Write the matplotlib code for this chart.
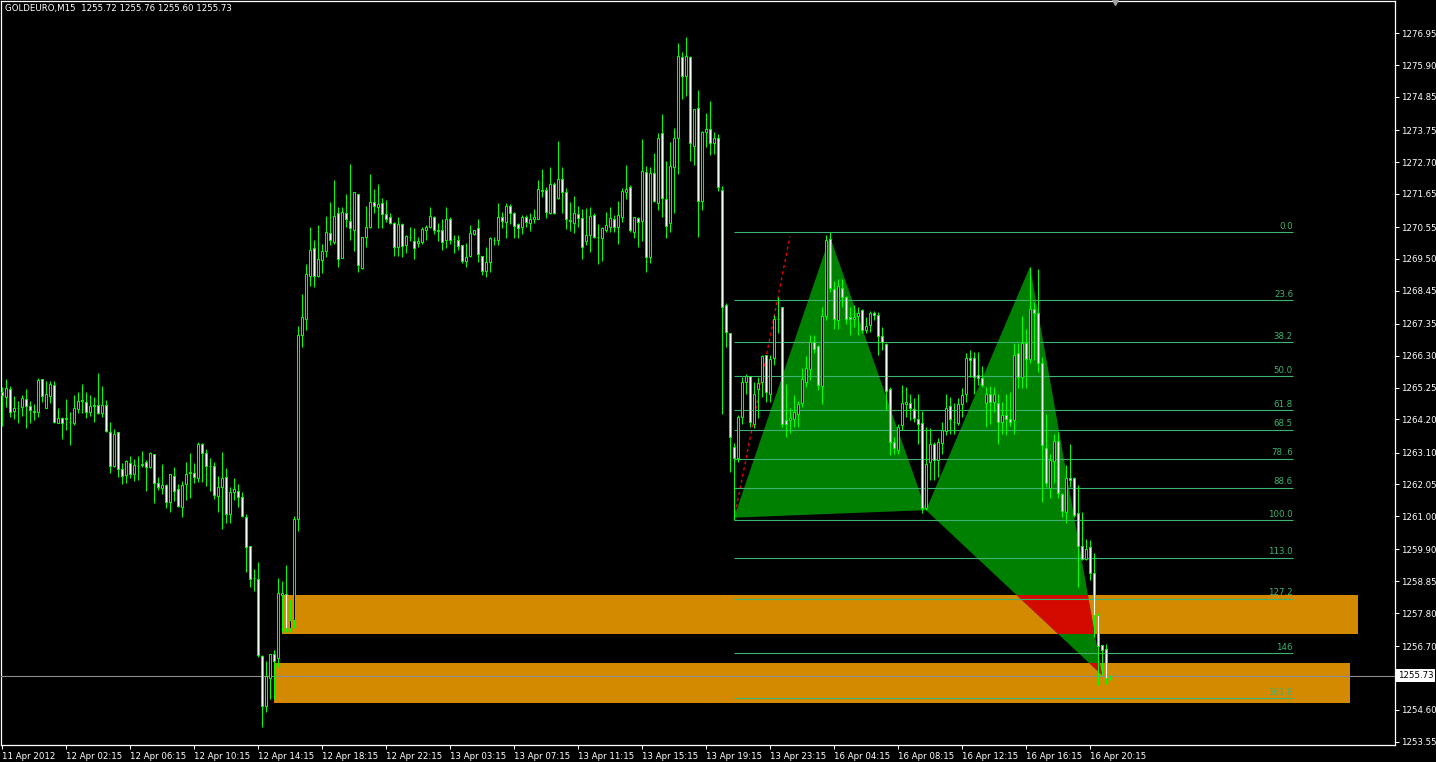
import numpy as np
import matplotlib
matplotlib.use("Agg")
import matplotlib.pyplot as plt
import matplotlib.transforms as mtransforms
from matplotlib.patches import Polygon, Rectangle

title = "GOLDEURO,M15  1255.72 1255.76 1255.60 1255.73"

# M15 candles, one entry per bar (bar 0 = 11 Apr 2012 00:00)
opens = [
    1265.09, 1264.95, 1265.19, 1264.49, 1264.57, 1264.60, 1264.86, 1264.63, 1264.46, 1264.43,
    1265.52, 1264.56, 1264.98, 1265.33, 1264.09, 1264.25, 1264.23, 1264.10, 1264.09, 1264.54,
    1264.82, 1264.76, 1264.45, 1264.65, 1264.67, 1264.42, 1264.67, 1263.77, 1262.67, 1263.77,
    1262.56, 1262.36, 1262.77, 1262.38, 1262.67, 1262.70, 1262.78, 1262.64, 1263.04, 1262.09,
    1261.94, 1262.03, 1261.46, 1262.34, 1261.89, 1261.31, 1262.05, 1262.45, 1262.42, 1262.25,
    1263.37, 1263.10, 1262.67, 1262.67, 1261.68, 1261.95, 1262.28, 1261.07, 1261.79, 1261.84,
    1261.64, 1260.98, 1260.01, 1258.97, 1258.91, 1256.39, 1254.74, 1255.66, 1256.43, 1256.30,
    1258.39, 1258.42, 1257.32, 1257.57, 1260.90, 1267.00, 1267.50, 1268.94, 1269.85, 1268.94,
    1269.46, 1269.77, 1270.34, 1270.07, 1271.03, 1269.54, 1271.03, 1270.76, 1270.47, 1271.66,
    1269.21, 1270.21, 1270.54, 1271.37, 1271.22, 1271.33, 1270.97, 1270.87, 1270.70, 1269.88,
    1270.64, 1269.96, 1270.23, 1270.09, 1270.01, 1270.05, 1270.47, 1270.54, 1270.87, 1270.44,
    1270.45, 1270.12, 1270.81, 1270.16, 1270.14, 1269.96, 1269.44, 1269.59, 1270.31, 1270.51,
    1269.61, 1269.11, 1269.41, 1270.12, 1270.14, 1270.87, 1270.73, 1271.26, 1271.00, 1270.65,
    1270.54, 1270.89, 1270.70, 1270.82, 1270.82, 1271.77, 1271.77, 1271.00, 1271.97, 1271.50,
    1272.13, 1271.72, 1270.77, 1270.70, 1270.98, 1270.84, 1270.09, 1270.29, 1270.95, 1270.23,
    1270.18, 1270.45, 1270.56, 1270.81, 1270.54, 1270.89, 1271.72, 1271.86, 1270.40, 1270.84,
    1270.76, 1272.36, 1269.57, 1272.33, 1271.33, 1273.65, 1271.47, 1270.67, 1272.54, 1273.48,
    1276.16, 1275.55, 1276.16, 1273.24, 1274.47, 1271.42, 1273.68, 1273.78, 1273.32, 1273.48,
    1271.77, 1267.97, 1267.06, 1263.29, 1262.93, 1264.26, 1265.42, 1265.64, 1264.06, 1265.19,
    1265.42, 1266.32, 1265.03, 1266.21, 1267.51, 1267.92, 1264.17, 1264.17, 1264.21, 1264.37,
    1264.75, 1265.42, 1265.86, 1266.74, 1266.62, 1265.31, 1267.62, 1270.17, 1268.52, 1267.48,
    1268.54, 1268.25, 1267.59, 1267.53, 1267.61, 1267.81, 1267.15, 1267.31, 1267.72, 1267.66,
    1266.96, 1266.68, 1265.20, 1263.46, 1263.20, 1264.01, 1264.70, 1264.75, 1264.54, 1264.21,
    1264.09, 1261.26, 1262.78, 1263.38, 1262.85, 1263.42, 1263.82, 1264.64, 1264.12, 1264.09,
    1264.72, 1265.03, 1266.21, 1266.24, 1265.66, 1265.58, 1264.75, 1265.03, 1264.78, 1264.75,
    1264.12, 1264.34, 1264.21, 1264.17, 1266.38, 1265.61, 1266.73, 1266.18, 1267.86, 1267.70,
    1266.07, 1263.24, 1261.92, 1262.83, 1263.49, 1261.73, 1261.15, 1262.25, 1262.25, 1261.09,
    1260.01, 1259.57, 1259.97, 1259.11, 1257.73, 1256.74, 1256.61, 1255.72,
]
highs = [
    1265.28, 1265.53, 1265.30, 1264.98, 1264.82, 1265.00, 1265.20, 1264.81, 1264.71, 1265.55,
    1265.53, 1265.48, 1265.48, 1265.48, 1264.59, 1264.29, 1264.86, 1264.45, 1265.00, 1265.11,
    1265.37, 1265.09, 1265.00, 1264.95, 1265.72, 1265.30, 1264.84, 1264.12, 1263.88, 1263.77,
    1262.75, 1262.86, 1262.99, 1262.88, 1263.00, 1263.15, 1262.86, 1263.11, 1263.04, 1262.31,
    1262.72, 1262.06, 1262.39, 1262.61, 1262.06, 1262.17, 1262.80, 1263.10, 1262.77, 1263.46,
    1263.41, 1263.22, 1262.93, 1262.80, 1262.33, 1263.11, 1262.60, 1261.97, 1262.25, 1262.06,
    1261.79, 1261.07, 1260.01, 1259.27, 1259.47, 1256.41, 1256.21, 1256.43, 1256.58, 1258.97,
    1258.86, 1259.38, 1258.23, 1261.00, 1267.28, 1268.33, 1269.33, 1270.56, 1270.12, 1270.62,
    1269.99, 1270.92, 1271.37, 1272.10, 1271.22, 1271.22, 1271.66, 1272.63, 1271.72, 1271.66,
    1270.21, 1271.25, 1272.30, 1271.81, 1271.99, 1271.50, 1271.44, 1271.03, 1270.73, 1270.89,
    1270.67, 1270.29, 1270.54, 1270.51, 1270.23, 1270.56, 1270.62, 1271.20, 1270.92, 1270.70,
    1270.81, 1271.20, 1270.87, 1270.29, 1270.29, 1269.96, 1270.01, 1270.62, 1270.47, 1270.81,
    1269.61, 1269.88, 1270.21, 1270.21, 1271.33, 1271.06, 1271.33, 1271.31, 1271.06, 1270.70,
    1270.95, 1270.95, 1271.00, 1271.14, 1272.10, 1272.46, 1271.88, 1272.54, 1272.05, 1273.39,
    1272.54, 1271.83, 1271.37, 1271.58, 1271.25, 1271.15, 1271.19, 1271.22, 1271.03, 1270.64,
    1270.56, 1271.06, 1271.20, 1270.95, 1271.41, 1271.83, 1272.60, 1271.94, 1270.89, 1270.87,
    1273.46, 1272.57, 1272.54, 1272.99, 1273.65, 1274.28, 1272.73, 1273.35, 1273.81, 1276.62,
    1276.32, 1276.82, 1276.20, 1274.44, 1275.08, 1273.72, 1274.31, 1274.71, 1273.68, 1273.62,
    1271.90, 1268.05, 1267.06, 1263.43, 1264.34, 1265.60, 1265.69, 1265.64, 1265.42, 1265.61,
    1266.32, 1266.32, 1266.32, 1267.64, 1268.23, 1267.92, 1265.38, 1264.56, 1265.00, 1264.80,
    1265.88, 1266.29, 1266.98, 1266.98, 1266.65, 1267.90, 1270.30, 1270.38, 1268.77, 1268.85,
    1268.82, 1268.27, 1267.90, 1267.97, 1267.92, 1267.86, 1267.59, 1267.79, 1267.79, 1267.73,
    1267.26, 1266.71, 1265.27, 1263.62, 1264.04, 1265.33, 1265.27, 1265.03, 1264.89, 1265.05,
    1264.47, 1263.93, 1263.90, 1263.46, 1263.57, 1264.12, 1265.05, 1264.95, 1264.75, 1264.92,
    1265.22, 1266.38, 1266.49, 1266.43, 1266.43, 1265.97, 1265.27, 1265.30, 1265.27, 1265.05,
    1264.78, 1265.05, 1265.11, 1266.71, 1266.71, 1267.61, 1267.20, 1269.24, 1268.08, 1269.15,
    1266.25, 1264.39, 1263.07, 1263.73, 1263.79, 1261.75, 1262.69, 1263.38, 1262.28, 1262.03,
    1261.15, 1260.26, 1260.21, 1259.77, 1257.79, 1256.74, 1256.77, 1255.76,
]
lows = [
    1263.99, 1264.62, 1264.27, 1264.20, 1264.07, 1264.31, 1263.92, 1264.07, 1264.18, 1264.27,
    1264.78, 1264.56, 1264.73, 1264.07, 1264.07, 1263.54, 1263.85, 1263.35, 1264.01, 1264.42,
    1264.40, 1264.23, 1264.32, 1264.12, 1264.38, 1264.27, 1263.79, 1262.42, 1262.64, 1262.28,
    1262.05, 1262.11, 1262.25, 1262.17, 1262.20, 1262.64, 1261.84, 1262.58, 1261.45, 1261.87,
    1261.72, 1261.28, 1261.15, 1261.51, 1261.31, 1260.96, 1261.53, 1261.61, 1262.11, 1262.14,
    1262.12, 1262.00, 1261.83, 1261.56, 1261.15, 1260.57, 1260.78, 1260.76, 1261.53, 1261.31,
    1260.98, 1259.16, 1258.67, 1258.54, 1256.36, 1254.04, 1254.54, 1254.95, 1254.95, 1256.03,
    1257.18, 1257.18, 1257.18, 1257.32, 1260.50, 1266.60, 1267.15, 1268.60, 1268.58, 1268.91,
    1269.02, 1269.55, 1269.96, 1269.98, 1269.24, 1269.52, 1270.54, 1270.12, 1269.77, 1269.08,
    1269.16, 1269.90, 1270.51, 1271.00, 1270.51, 1270.51, 1270.73, 1270.64, 1269.60, 1269.59,
    1269.57, 1269.70, 1270.10, 1269.49, 1269.90, 1269.99, 1270.12, 1270.51, 1270.31, 1270.09,
    1269.79, 1269.85, 1269.99, 1269.70, 1269.79, 1269.37, 1269.22, 1269.55, 1270.29, 1269.41,
    1268.97, 1268.91, 1269.08, 1269.96, 1269.96, 1270.53, 1270.18, 1270.64, 1270.18, 1270.18,
    1270.31, 1270.56, 1270.43, 1270.67, 1270.82, 1271.55, 1270.84, 1270.98, 1270.98, 1271.48,
    1271.03, 1270.49, 1270.43, 1270.36, 1270.56, 1269.49, 1269.96, 1269.74, 1270.18, 1269.33,
    1269.44, 1270.40, 1270.40, 1270.40, 1269.99, 1270.73, 1271.48, 1270.40, 1270.20, 1269.90,
    1270.10, 1269.08, 1269.37, 1271.39, 1271.11, 1270.89, 1270.20, 1270.40, 1271.03, 1272.32,
    1274.77, 1274.89, 1272.74, 1272.60, 1270.23, 1271.11, 1273.21, 1272.93, 1272.96, 1271.75,
    1264.39, 1266.60, 1262.47, 1260.86, 1262.80, 1264.04, 1265.05, 1263.93, 1263.90, 1264.23,
    1264.94, 1264.78, 1264.78, 1265.99, 1267.04, 1263.95, 1263.62, 1263.76, 1263.95, 1263.95,
    1264.61, 1265.27, 1265.49, 1266.38, 1265.17, 1264.72, 1267.48, 1268.41, 1267.18, 1267.20,
    1267.92, 1267.35, 1266.98, 1267.24, 1266.98, 1267.04, 1267.04, 1267.09, 1267.48, 1266.32,
    1266.49, 1264.50, 1263.02, 1263.07, 1263.07, 1263.84, 1264.28, 1264.17, 1264.12, 1263.40,
    1261.09, 1261.20, 1262.19, 1262.19, 1262.30, 1263.07, 1263.68, 1263.73, 1263.73, 1264.01,
    1264.28, 1264.78, 1265.61, 1265.03, 1265.33, 1265.27, 1263.93, 1264.06, 1264.45, 1263.40,
    1263.73, 1263.68, 1263.98, 1263.73, 1265.22, 1265.22, 1265.22, 1266.05, 1266.16, 1265.77,
    1261.48, 1261.97, 1261.59, 1262.08, 1261.59, 1260.98, 1260.76, 1261.97, 1260.98, 1258.67,
    1259.55, 1259.55, 1258.89, 1257.00, 1255.42, 1255.75, 1255.47, 1255.60,
]
closes = [
    1265.00, 1265.22, 1264.45, 1264.56, 1264.59, 1264.89, 1264.65, 1264.51, 1264.45, 1265.50,
    1264.98, 1265.03, 1265.36, 1264.12, 1264.23, 1264.09, 1264.22, 1264.11, 1264.56, 1264.81,
    1264.83, 1264.45, 1264.65, 1264.66, 1264.40, 1264.67, 1263.81, 1262.67, 1263.71, 1262.55,
    1262.34, 1262.82, 1262.38, 1262.69, 1262.66, 1262.71, 1262.64, 1263.08, 1262.09, 1261.95,
    1262.03, 1261.46, 1262.38, 1261.84, 1261.35, 1262.03, 1262.38, 1262.44, 1262.28, 1263.37,
    1263.08, 1262.67, 1262.66, 1261.70, 1261.97, 1262.25, 1261.06, 1261.81, 1261.89, 1261.62,
    1261.02, 1259.99, 1258.94, 1258.96, 1256.41, 1254.73, 1255.72, 1256.43, 1256.22, 1258.45,
    1258.45, 1257.32, 1257.57, 1260.90, 1267.00, 1267.57, 1268.99, 1269.81, 1268.94, 1269.48,
    1269.77, 1270.38, 1270.14, 1270.92, 1269.48, 1271.04, 1270.81, 1270.51, 1271.72, 1269.30,
    1270.21, 1270.54, 1271.37, 1271.26, 1271.31, 1270.98, 1270.82, 1270.70, 1269.88, 1270.64,
    1269.92, 1270.25, 1270.22, 1269.85, 1270.10, 1270.49, 1270.54, 1270.92, 1270.47, 1270.42,
    1270.05, 1270.81, 1270.14, 1270.15, 1269.94, 1269.44, 1269.57, 1270.34, 1270.47, 1269.65,
    1269.11, 1269.39, 1270.18, 1270.13, 1270.87, 1270.76, 1271.25, 1271.00, 1270.60, 1270.51,
    1270.87, 1270.73, 1270.81, 1270.87, 1271.80, 1271.75, 1271.06, 1271.97, 1271.00, 1272.13,
    1271.72, 1270.81, 1270.76, 1271.00, 1270.84, 1269.88, 1270.29, 1270.92, 1270.23, 1270.22,
    1270.53, 1270.62, 1270.84, 1270.54, 1270.95, 1271.74, 1271.80, 1270.45, 1270.87, 1270.73,
    1272.40, 1269.57, 1272.33, 1271.41, 1273.48, 1271.50, 1270.60, 1272.57, 1273.51, 1276.20,
    1275.55, 1276.20, 1273.32, 1274.44, 1271.42, 1273.68, 1273.79, 1273.32, 1273.51, 1271.88,
    1267.90, 1267.07, 1263.62, 1262.93, 1264.26, 1265.42, 1265.64, 1264.10, 1265.05, 1265.41,
    1266.30, 1265.09, 1266.18, 1267.50, 1267.52, 1264.04, 1264.06, 1264.23, 1264.43, 1264.69,
    1265.52, 1265.88, 1266.74, 1266.52, 1265.35, 1267.62, 1270.12, 1268.55, 1267.50, 1268.61,
    1268.23, 1267.50, 1267.51, 1267.59, 1267.70, 1267.15, 1267.28, 1267.70, 1267.64, 1266.95,
    1266.74, 1265.13, 1263.46, 1263.24, 1263.95, 1264.75, 1264.78, 1264.56, 1264.23, 1264.06,
    1261.26, 1262.74, 1263.38, 1262.85, 1263.46, 1263.84, 1264.59, 1264.20, 1264.11, 1264.70,
    1265.00, 1266.21, 1266.16, 1265.61, 1265.55, 1265.33, 1265.03, 1264.78, 1265.03, 1264.12,
    1264.34, 1264.21, 1264.12, 1266.32, 1265.61, 1266.71, 1266.18, 1267.83, 1267.72, 1266.07,
    1263.35, 1262.10, 1262.85, 1263.48, 1261.75, 1261.17, 1262.25, 1262.21, 1261.04, 1260.01,
    1259.60, 1259.93, 1259.13, 1257.73, 1256.72, 1256.57, 1255.67, 1255.73,
]

time_tick_bars = [0, 16, 32, 48, 64, 80, 96, 112, 128, 144, 160, 176, 192, 208, 224, 240, 256, 272]
time_labels = ["11 Apr 2012", "12 Apr 02:15", "12 Apr 06:15", "12 Apr 10:15", "12 Apr 14:15",
               "12 Apr 18:15", "12 Apr 22:15", "13 Apr 03:15", "13 Apr 07:15", "13 Apr 11:15",
               "13 Apr 15:15", "13 Apr 19:15", "13 Apr 23:15", "16 Apr 04:15", "16 Apr 08:15",
               "16 Apr 12:15", "16 Apr 16:15", "16 Apr 20:15"]
price_labels = ["1276.95", "1275.90", "1274.85", "1273.75", "1272.70", "1271.65", "1270.55",
                "1269.50", "1268.45", "1267.35", "1266.30", "1265.25", "1264.20", "1263.10",
                "1262.05", "1261.00", "1259.90", "1258.85", "1257.80", "1256.70", "1254.60",
                "1253.55"]
last_price = 1255.73

# fibo grid drawn from the A high to the X low
fib_high = 1270.38
fib_low = 1260.86
fib_levels = [0.0, 23.6, 38.2, 50.0, 61.8, 68.5, 78.6, 88.6, 100.0, 113.0, 127.2, 146.0, 161.8]
fib_labels = ["0.0", "23.6", "38.2", "50.0", "61.8", "68.5", "78..6", "88.6",
              "100.0", "113.0", "127.2", "146", "161.8"]
fib_bars = [183, 322.75]

# harmonic pattern points X, A, B, C, D
pattern_bars = [183, 207, 231, 257, 275]
pattern_prices = [1260.95, 1270.23, 1261.20, 1269.24, 1255.75]

# dotted projection line from X
proj_bars = [183, 197]
proj_prices = [1260.89, 1270.25]

# supply/demand zones
zone_left = [70.1, 68.0]
zone_right = [338.9, 336.9]
zone_low = [1257.12, 1254.84]
zone_high = [1258.39, 1256.15]

LIME = "#00FF00"
FIB = "#3CB371"
ORANGE = "#D38A00"


def main():
    plt.rcParams["font.family"] = ["DejaVu Sans"]
    fig = plt.figure(figsize=(14.36, 7.62), dpi=100, facecolor="black")
    ax = fig.add_axes([1 / 1436, 17 / 762, 1394 / 1436, 744 / 762], facecolor="black")

    o = np.array(opens)
    h = np.array(highs)
    lo = np.array(lows)
    c = np.array(closes)
    x = np.arange(len(o))

    # zones
    zones = []
    for left, right, bot, top in zip(zone_left, zone_right, zone_low, zone_high):
        r = Rectangle((left, bot), right - left, top - bot, facecolor=ORANGE,
                      edgecolor="none", zorder=1)
        ax.add_patch(r)
        zones.append(r)

    # pattern triangles, red where they overlap a zone
    pts = list(zip(pattern_bars, pattern_prices))
    for tri in (pts[0:3], pts[2:5]):
        ax.add_patch(Polygon(tri, closed=True, facecolor="#008000", edgecolor="none", zorder=2))
        for r in zones:
            red = Polygon(tri, closed=True, facecolor="#D40A00", edgecolor="none", zorder=3)
            ax.add_patch(red)
            red.set_clip_path(r)

    ax.plot(proj_bars, proj_prices, color="red", lw=0.9, ls=(0, (2.5, 2.5)), zorder=4)

    # fibo levels
    span = fib_high - fib_low
    for lvl, lab in zip(fib_levels, fib_labels):
        p = fib_high - lvl / 100.0 * span
        ax.hlines(p, fib_bars[0], fib_bars[1], color=FIB, lw=0.8, zorder=4)
        ax.annotate(lab, (fib_bars[1], p), xytext=(0, 1), textcoords="offset points",
                    ha="right", va="bottom", color=FIB, fontsize=6.2, zorder=4)

    ax.axhline(last_price, color="#8C8C8C", lw=0.8, zorder=4)

    # candles
    up = c >= o
    body_bot = np.minimum(o, c)
    body_h = np.maximum(np.abs(c - o), 0.01)
    ax.vlines(x, lo, h, color=LIME, lw=0.75, zorder=5)
    ax.bar(x, body_h, bottom=body_bot, width=0.5,
           color=np.where(up, "black", "white"), edgecolor=LIME, lw=0.75, zorder=6)

    ax.set_xlim(-0.25, 348.25)
    ax.set_ylim(1253.44, 1278.02)

    ax.set_xticks(time_tick_bars)
    ax.set_xticklabels(time_labels)
    for t in ax.get_xticklabels():
        t.set_horizontalalignment("left")
    ax.yaxis.tick_right()
    ax.set_yticks([float(v) for v in price_labels])
    ax.set_yticklabels(price_labels)
    ax.tick_params(axis="x", colors="white", length=3, width=0.75, pad=2, labelsize=6.2)
    ax.tick_params(axis="y", colors="white", length=3, width=0.75, pad=1.5, labelsize=6.2)
    for s in ax.spines.values():
        s.set_color("white")
        s.set_linewidth(0.9)

    trans = mtransforms.blended_transform_factory(ax.transAxes, ax.transData)
    ax.text(1.0 + 3 / 1394, last_price, "%.2f" % last_price, transform=trans,
            ha="left", va="center", color="black", fontsize=6.2, zorder=10,
            bbox=dict(boxstyle="square,pad=0.2", fc="white", ec="none"))

    # chart shift marker
    ax.plot([278.25], [1.0], marker="v", color="#A0A0A0", markersize=6,
            transform=mtransforms.blended_transform_factory(ax.transData, ax.transAxes),
            clip_on=False, zorder=10)

    fig.text(5 / 1436, 1 - 8 / 762, title, color="white", fontsize=6.2, va="center", ha="left")

    fig.savefig("out.png", dpi=100, facecolor="black")


if __name__ == "__main__":
    main()
